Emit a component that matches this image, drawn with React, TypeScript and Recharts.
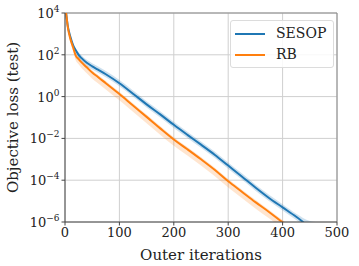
import React from "react";
import {
  ComposedChart,
  Line,
  Area,
  XAxis,
  YAxis,
  CartesianGrid,
  ReferenceLine,
} from "recharts";

if (typeof document !== "undefined") document.body.style.margin = "0";

// outer iteration index
const iters = [0, 2, 5, 10, 15, 20, 25, 30, 40, 50, 60, 75, 100, 125, 150, 175, 200, 225, 250, 275, 300, 325, 350, 375, 400, 425, 450, 475, 500];

// log10 of the loss
const sesopLog = [4.4, 4.0, 3.4, 2.85, 2.45, 2.2, 2.0, 1.85, 1.62, 1.45, 1.3, 1.07, 0.64, 0.14, -0.37, -0.85, -1.35, -1.83, -2.3, -2.78, -3.3, -3.82, -4.35, -4.85, -5.3, -5.75, -6.25, -6.7, -7.1];
const sesopLowLog = [4.35, 3.95, 3.3, 2.75, 2.35, 2.08, 1.86, 1.7, 1.47, 1.3, 1.15, 0.92, 0.49, -0.01, -0.52, -1.0, -1.5, -1.98, -2.45, -2.93, -3.45, -3.97, -4.5, -5.0, -5.45, -5.9, -6.4, -6.85, -7.25];
const sesopHighLog = [4.45, 4.05, 3.5, 2.95, 2.55, 2.3, 2.12, 1.98, 1.76, 1.6, 1.45, 1.22, 0.79, 0.29, -0.22, -0.7, -1.2, -1.68, -2.15, -2.63, -3.15, -3.67, -4.2, -4.7, -5.15, -5.6, -5.95, -6.05, -6.3];

const rbLog = [4.4, 4.0, 3.35, 2.75, 2.35, 1.95, 1.8, 1.65, 1.4, 1.15, 0.95, 0.64, 0.12, -0.43, -0.97, -1.52, -2.05, -2.52, -3.0, -3.5, -4.05, -4.55, -5.05, -5.52, -6.02, -6.5, -7.0, -7.4, -7.8];
const rbLowLog = [4.35, 3.95, 3.25, 2.6, 2.15, 1.72, 1.55, 1.38, 1.12, 0.86, 0.65, 0.34, -0.18, -0.73, -1.27, -1.82, -2.35, -2.82, -3.3, -3.8, -4.35, -4.85, -5.35, -5.82, -6.32, -6.8, -7.3, -7.7, -8.1];
const rbHighLog = [4.45, 4.05, 3.42, 2.84, 2.45, 2.06, 1.91, 1.76, 1.51, 1.26, 1.06, 0.75, 0.23, -0.32, -0.86, -1.41, -1.94, -2.41, -2.89, -3.39, -3.94, -4.44, -4.94, -5.41, -5.91, -6.39, -6.89, -7.29, -7.69];

const xTicks = [0, 100, 200, 300, 400, 500];
const yExps = [-6, -4, -2, 0, 2, 4];

const BLUE = "#1f77b4";
const ORANGE = "#ff7f0e";
const FONT = "DejaVu Serif";

const data = iters.map((x, i) => ({
  x,
  sesop: Math.pow(10, sesopLog[i]),
  rb: Math.pow(10, rbLog[i]),
  sesopBand: [Math.pow(10, sesopLowLog[i]), Math.pow(10, sesopHighLog[i])],
  rbBand: [Math.pow(10, rbLowLog[i]), Math.pow(10, rbHighLog[i])],
}));

const YTick = (props: any) => {
  const { x, y, payload } = props;
  const exp = Math.round(Math.log10(payload.value));
  const label = exp < 0 ? "\u2212" + Math.abs(exp) : String(exp);
  return (
    <text x={x} y={y + 5} textAnchor="end" fontFamily={FONT} fontSize={13} fill="#222">
      <tspan>10</tspan>
      <tspan dy={-6} fontSize={9}>{label}</tspan>
    </text>
  );
};

const YLabel = (props: any) => {
  const vb = props.viewBox;
  const cx = 13;
  const cy = vb.y + vb.height / 2;
  return (
    <text x={cx} y={cy} transform={`rotate(-90 ${cx} ${cy})`} textAnchor="middle" dominantBaseline="central" fontFamily={FONT} fontSize={15} fill="#222">
      Objective loss (test)
    </text>
  );
};

const LegendBox = () => (
  <div
    style={{
      position: "absolute",
      left: 230,
      top: 20,
      border: "1px solid #dcdcdc",
      borderRadius: 3,
      background: "rgba(255,255,255,0.85)",
      padding: "2px 7px 2px 4px",
      fontFamily: FONT,
      fontSize: 14,
      color: "#222",
      lineHeight: "21px",
    }}
  >
    {[
      ["SESOP", BLUE],
      ["RB", ORANGE],
    ].map(([name, c]) => (
      <div key={name} style={{ display: "flex", alignItems: "center" }}>
        <span style={{ display: "inline-block", width: 30, height: 2, background: c, marginRight: 11 }} />
        {name}
      </div>
    ))}
  </div>
);

export default function App() {
  return (
    <div style={{ position: "relative", width: 359, height: 266, background: "#fff" }}>
      <ComposedChart width={359} height={266} data={data} margin={{ top: 13, right: 22, left: 0, bottom: 0 }}>
        <CartesianGrid stroke="#cfcfcf" strokeWidth={1} />
        <XAxis
          dataKey="x"
          type="number"
          domain={[0, 500]}
          ticks={xTicks}
          height={44}
          stroke="#444"
          tickSize={3.5}
          tick={{ fontFamily: FONT, fontSize: 13, fill: "#222" }}
          label={{ value: "Outer iterations", position: "insideBottom", offset: 6, fontFamily: FONT, fontSize: 15, fill: "#222" }}
        />
        <YAxis
          type="number"
          scale="log"
          domain={[1e-6, 1e4]}
          ticks={yExps.map((e) => Math.pow(10, e))}
          allowDataOverflow
          width={65}
          stroke="#444"
          tickSize={3.5}
          tick={<YTick />}
          label={<YLabel />}
        />
        <ReferenceLine y={1e4} stroke="#888" />
        <ReferenceLine x={500} stroke="#888" />
        <Area type="monotone" dataKey="sesopBand" stroke="none" fill={BLUE} fillOpacity={0.22} isAnimationActive={false} legendType="none" />
        <Area type="monotone" dataKey="rbBand" stroke="none" fill={ORANGE} fillOpacity={0.2} isAnimationActive={false} legendType="none" />
        <Line type="monotone" dataKey="sesop" stroke={BLUE} strokeWidth={2} dot={false} isAnimationActive={false} />
        <Line type="monotone" dataKey="rb" stroke={ORANGE} strokeWidth={2} dot={false} isAnimationActive={false} />
      </ComposedChart>
      <LegendBox />
    </div>
  );
}
